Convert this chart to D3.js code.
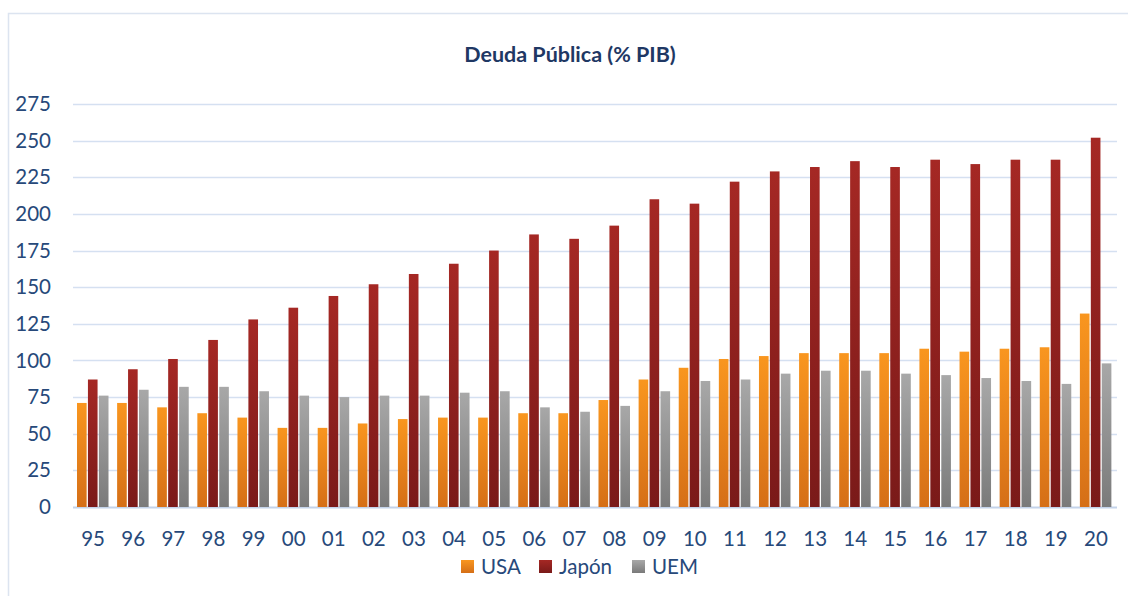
<!DOCTYPE html>
<html>
<head>
<meta charset="utf-8">
<script src="https://cdn.jsdelivr.net/npm/d3@7"></script>
<style>
  body { margin: 0; background: #fff; }
  svg text { font-family: Lato, "Open Sans", sans-serif; fill: #27497A; }
</style>
</head>
<body>
<svg id="chart" width="1128" height="596"></svg>
<script>
// Data
var years = ["95","96","97","98","99","00","01","02","03","04","05","06","07","08","09","10","11","12","13","14","15","16","17","18","19","20"];
var usa   = [71, 71, 68, 64, 61, 54, 54, 57, 60, 61, 61, 64, 64, 73, 87, 95, 101, 103, 105, 105, 105, 108, 106, 108, 109, 132];
var japon = [87, 94, 101, 114, 128, 136, 144, 152, 159, 166, 175, 186, 183, 192, 210, 207, 222, 229, 232, 236, 232, 237, 234, 237, 237, 252];
var uem   = [76, 80, 82, 82, 79, 76, 75, 76, 76, 78, 79, 68, 65, 69, 79, 86, 87, 91, 93, 93, 91, 90, 88, 86, 84, 98];
var seriesNames = ["USA", "Japón", "UEM"];
var yTicks = [0, 25, 50, 75, 100, 125, 150, 175, 200, 225, 250, 275];

var series = [usa, japon, uem];
var colors = [
    { id: "gUSA", top: "#F9961F", bottom: "#D56F17" },
    { id: "gJap", top: "#A52824", bottom: "#7A1A19" },
    { id: "gUEM", top: "#A8A8A8", bottom: "#7A7A7A" }
];

var svg = d3.select("#chart");

// gradients
var defs = svg.append("defs");
colors.forEach(function (c) {
    var g = defs.append("linearGradient")
        .attr("id", c.id)
        .attr("x1", 0).attr("y1", 0).attr("x2", 0).attr("y2", 1);
    g.append("stop").attr("offset", "0%").attr("stop-color", c.top);
    g.append("stop").attr("offset", "100%").attr("stop-color", c.bottom);
});

// outer frame
svg.append("path")
    .attr("d", "M8.5,596 L8.5,13.5 L1128,13.5")
    .attr("fill", "none")
    .attr("stroke", "#DCE4F0")
    .attr("stroke-width", 1.5);

// title
svg.append("text")
    .attr("x", 570)
    .attr("y", 62)
    .attr("text-anchor", "middle")
    .style("font-size", "21.5px")
    .style("font-weight", "bold")
    .style("fill", "#1F3864")
    .text("Deuda Pública (% PIB)");

// scales
var x0 = d3.scaleBand()
    .domain(years)
    .range([73, 1116])
    .paddingInner(0);

var x1 = d3.scaleBand()
    .domain(d3.range(3))
    .range([4, 35.5])
    .paddingInner(0.12);

var yScale = d3.scaleLinear()
    .domain([0, 275])
    .range([507, 104]);

// gridlines
svg.append("g")
    .selectAll("line")
    .data(yTicks)
    .enter().append("line")
    .attr("x1", 73)
    .attr("x2", 1117)
    .attr("y1", function (d) { return Math.round(yScale(d)) + 0.5; })
    .attr("y2", function (d) { return Math.round(yScale(d)) + 0.5; })
    .attr("stroke", function (d) { return d === 0 ? "#C4D3EA" : "#D5E0F1"; })
    .attr("stroke-width", function (d) { return d === 0 ? 2 : 1.5; });

// y axis labels
var yAxis = d3.axisLeft(yScale)
    .tickValues(yTicks)
    .tickSize(0)
    .tickPadding(0);

var gy = svg.append("g")
    .attr("transform", "translate(51,0)")
    .call(yAxis);
gy.select(".domain").remove();
gy.selectAll("text")
    .style("font-size", "20.5px")
    .attr("font-family", null)
    .attr("fill", null);

// x axis labels
var xAxis = d3.axisBottom(x0)
    .tickSize(0)
    .tickPadding(0);

var gx = svg.append("g")
    .attr("transform", "translate(0,531)")
    .call(xAxis);
gx.select(".domain").remove();
gx.selectAll("text")
    .style("font-size", "20.5px")
    .attr("font-family", null)
    .attr("fill", null);

// bars
var groups = svg.append("g")
    .selectAll("g")
    .data(years)
    .enter().append("g")
    .attr("transform", function (d) { return "translate(" + x0(d) + ",0)"; });

groups.selectAll("rect")
    .data(function (d, i) { return series.map(function (s, k) { return { k: k, v: s[i] }; }); })
    .enter().append("rect")
    .attr("x", function (d) { return x1(d.k); })
    .attr("width", x1.bandwidth())
    .attr("y", function (d) { return yScale(d.v); })
    .attr("height", function (d) { return yScale(0) - yScale(d.v); })
    .attr("fill", function (d) { return "url(#" + colors[d.k].id + ")"; });

// legend
var legendX = [461, 539, 632];
var legend = svg.append("g")
    .selectAll("g")
    .data(seriesNames)
    .enter().append("g")
    .attr("transform", function (d, i) { return "translate(" + legendX[i] + ",560)"; });

legend.append("rect")
    .attr("width", 13)
    .attr("height", 13)
    .attr("fill", function (d, i) { return "url(#" + colors[i].id + ")"; });

legend.append("text")
    .attr("x", 20)
    .attr("y", 13.5)
    .style("font-size", "20.5px")
    .text(function (d) { return d; });
</script>
</body>
</html>
